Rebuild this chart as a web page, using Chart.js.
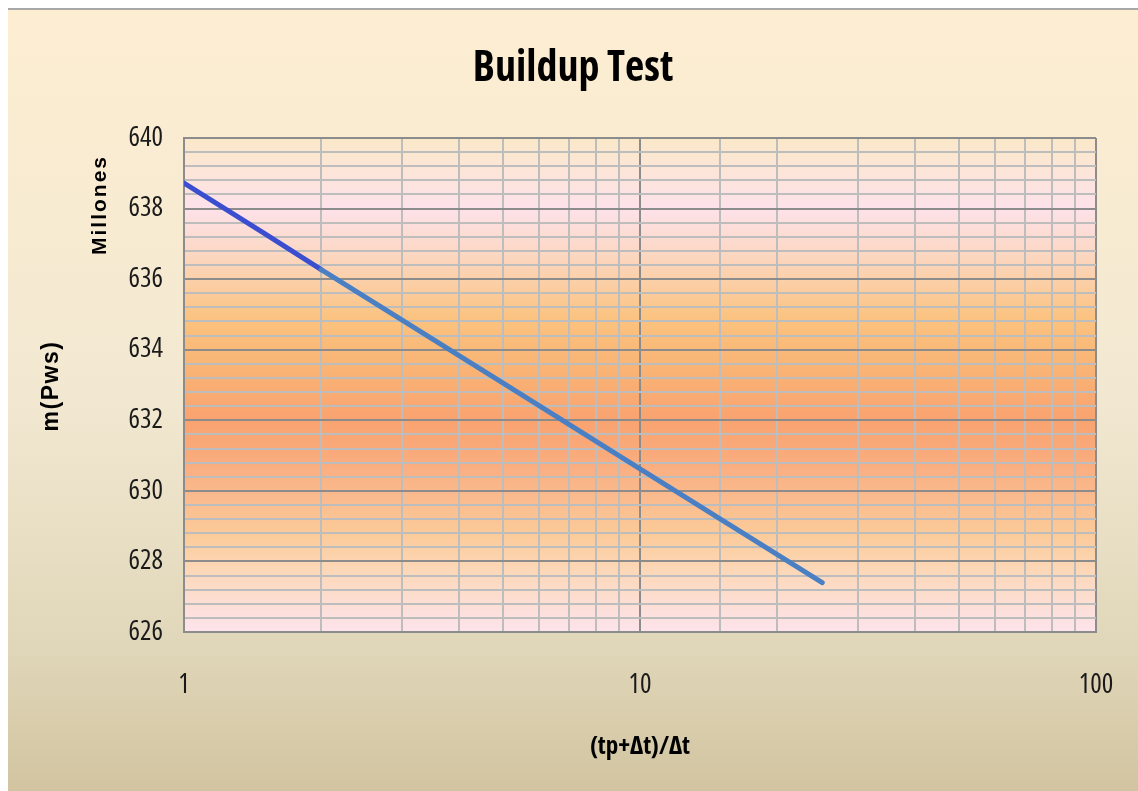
<!DOCTYPE html>
<html>
<head>
<meta charset="utf-8">
<title>Buildup Test</title>
<script src="https://cdn.jsdelivr.net/npm/chart.js@4/dist/chart.umd.min.js"></script>
<style>
  html, body { margin: 0; padding: 0; background: #ffffff; }
  #c { display: block; }
</style>
</head>
<body>
<canvas id="c" width="1138" height="791"></canvas>
<script>
// Horner buildup: m(Pws) (millions) against Horner time ratio
const ratioEarly = [1, 1.5, 2];
const mPwsEarly = [638.72, 637.30, 636.27];
const ratioLate = [2, 5, 10, 25.1];
const mPwsLate = [636.27, 633.06, 630.62, 627.40];
const xTickLabels = [1, 10, 100];
const yTickLabels = [626, 628, 630, 632, 634, 636, 638, 640];

const WIDE = '"Liberation Sans", Arial, sans-serif';

// pick a condensed face for the horizontal texts, if one is installed
function pickNarrow() {
  const c = document.createElement('canvas').getContext('2d');
  const sample = 'Buildup Test 640';
  const w = f => { c.font = f; return c.measureText(sample).width; };
  const base = w('bold 40px "Liberation Sans"');
  const mono = w('bold 40px monospace');
  const cands = [
    ['"Liberation Sans Narrow"', ''],
    ['"Open Sans"', 'condensed'],
    ['"Noto Sans"', 'condensed'],
    ['"Roboto Condensed"', ''],
    ['"Open Sans Condensed"', ''],
    ['"DejaVu Sans Condensed"', '']
  ];
  for (const [fam, st] of cands) {
    const probe = w('bold ' + (st ? st + ' ' : '') + '40px ' + fam + ', monospace');
    if (Math.abs(probe - mono) > 0.5 && probe < base * 0.9) {
      return { family: fam + ', ' + WIDE, stretch: st, ratio: probe / base };
    }
  }
  return { family: WIDE, stretch: '', ratio: 1 };
}
const NF = pickNarrow();
const narrowFont = (size, bold) => ({
  family: NF.family,
  size: NF.ratio > 0.95 ? Math.round(size * 0.9) : size,
  weight: ((bold ? 'bold' : 'normal') + (NF.stretch ? ' ' + NF.stretch : ''))
});

const isMajorX = v => xTickLabels.some(t => Math.abs(t - v) < 1e-9);
const isMajorY = v => yTickLabels.some(t => Math.abs(t - v) < 1e-6);

function toPoints(xs, ys) {
  return xs.map((x, i) => ({ x: x, y: ys[i] }));
}

// page and plot-area fills, painted before the grid
const backdrop = {
  id: 'backdrop',
  beforeDraw(chart) {
    const { ctx, width, height, chartArea: a } = chart;
    ctx.save();
    ctx.fillStyle = '#ffffff';
    ctx.fillRect(0, 0, width, height);
    const g = ctx.createLinearGradient(0, 10, 0, height);
    g.addColorStop(0, '#fdeed2');
    g.addColorStop(0.5, '#f2e8d1');
    g.addColorStop(0.8, '#e1d8bb');
    g.addColorStop(1, '#d2c4a0');
    ctx.fillStyle = g;
    ctx.fillRect(8, 10, width - 8, height - 10);
    ctx.fillStyle = '#a8a8a8';
    ctx.fillRect(8, 8, width - 8, 2);

    const p = ctx.createLinearGradient(0, a.top, 0, a.bottom);
    p.addColorStop(0.00, '#fbe8c8');
    p.addColorStop(0.14, '#fde2ea');
    p.addColorStop(0.22, '#fcd9c9');
    p.addColorStop(0.29, '#fbcfa7');
    p.addColorStop(0.37, '#fbc27e');
    p.addColorStop(0.45, '#f9b676');
    p.addColorStop(0.57, '#f9a370');
    p.addColorStop(0.64, '#f9aa7b');
    p.addColorStop(0.72, '#fab98c');
    p.addColorStop(0.80, '#fbca98');
    p.addColorStop(0.87, '#fcd7b6');
    p.addColorStop(1.00, '#fde4ec');
    ctx.fillStyle = p;
    ctx.fillRect(a.left, a.top, a.right - a.left, a.bottom - a.top);
    ctx.restore();
  }
};

// rotated value-axis captions
const sideLabels = {
  id: 'sideLabels',
  afterDraw(chart) {
    const { ctx, chartArea: a } = chart;
    ctx.save();
    ctx.fillStyle = '#000000';
    ctx.textAlign = 'center';
    ctx.textBaseline = 'middle';

    ctx.save();
    ctx.translate(52, (a.top + a.bottom) / 2 + 1);
    ctx.rotate(-Math.PI / 2);
    ctx.font = 'bold 23px ' + WIDE;
    ctx.letterSpacing = '1.5px';
    ctx.fillText('m(Pws)', 0, 0);
    ctx.restore();

    ctx.save();
    ctx.translate(100, 205);
    ctx.rotate(-Math.PI / 2);
    ctx.font = 'bold 21px ' + WIDE;
    ctx.letterSpacing = '2px';
    ctx.fillText('Millones', 0, 0);
    ctx.restore();

    ctx.restore();
  }
};

new Chart(document.getElementById('c'), {
  type: 'line',
  data: {
    datasets: [
      {
        data: toPoints(ratioLate, mPwsLate),
        borderColor: '#4a80c3',
        borderWidth: 5,
        borderCapStyle: 'round',
        pointRadius: 0,
        fill: false,
        tension: 0
      },
      {
        data: toPoints(ratioEarly, mPwsEarly),
        borderColor: '#3b4ed0',
        borderWidth: 5,
        borderCapStyle: 'round',
        pointRadius: 0,
        fill: false,
        tension: 0
      }
    ]
  },
  options: {
    responsive: false,
    animation: false,
    devicePixelRatio: 1,
    layout: { padding: { top: 10, left: 8, right: 0, bottom: 0 } },
    plugins: {
      legend: { display: false },
      tooltip: { enabled: false },
      title: {
        display: true,
        text: 'Buildup Test',
        color: '#000000',
        font: narrowFont(42, true),
        padding: { top: 34, bottom: 43.6 }
      }
    },
    scales: {
      x: {
        type: 'logarithmic',
        min: 1,
        max: 100,
        afterFit(s) { s.height = 159; s.paddingLeft = 0; s.paddingRight = 42; },
        border: { display: true, color: '#8c8c8c', width: 2 },
        grid: {
          drawTicks: false,
          lineWidth: 2,
          color: c => isMajorX(c.tick.value) ? '#8c8c8c' : '#bdbdbd'
        },
        ticks: {
          autoSkip: false,
          maxRotation: 0,
          padding: 37,
          color: '#1a1a1a',
          font: narrowFont(27, false),
          callback: v => isMajorX(v) ? String(v) : ''
        },
        title: {
          display: true,
          text: '(tp+Δt)/Δt',
          color: '#000000',
          font: narrowFont(25, true),
          padding: { top: 0, bottom: 29 }
        }
      },
      y: {
        type: 'linear',
        min: 626,
        max: 640,
        afterFit(s) { s.width = 176; },
        border: { display: true, color: '#8c8c8c', width: 2 },
        grid: {
          drawTicks: false,
          lineWidth: 2,
          color: c => isMajorY(c.tick.value) ? '#8c8c8c' : '#bdbdbd'
        },
        ticks: {
          stepSize: 0.4,
          autoSkip: false,
          padding: 21,
          color: '#1a1a1a',
          font: narrowFont(27, false),
          callback: v => isMajorY(v) ? String(Math.round(v)) : ''
        }
      }
    }
  },
  plugins: [backdrop, sideLabels]
});
</script>
</body>
</html>
